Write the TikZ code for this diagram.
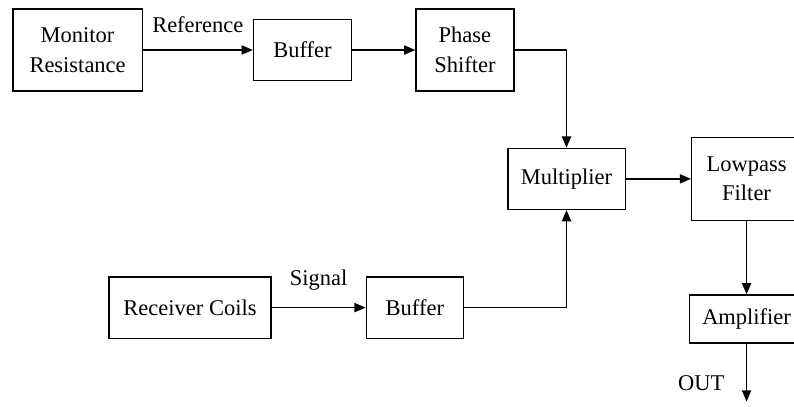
\documentclass[tikz,border=0pt]{standalone}
\usepackage{fontspec}
\setmainfont{Liberation Serif}
\usetikzlibrary{positioning,arrows.meta}

\begin{document}
\begin{tikzpicture}[
    every node/.style={font=\fontsize{16}{21}\selectfont},
    box/.style={rectangle, draw, line width=0.9pt, align=center, inner sep=2pt},
    tallbox/.style={box, minimum width=2.45cm, minimum height=2.05cm},
    flatbox/.style={box, minimum width=2.45cm, minimum height=1.53cm},
    arr/.style={draw, line width=0.9pt, -{Triangle[length=2.8mm,width=2.3mm]}}
]
    \useasboundingbox (0,0) rectangle (19.85,-10.15);
    \clip (0,0) rectangle (19.85,-10.15);

    % Reference path
    \node[tallbox, minimum width=3.23cm] (monitor) at (1.94,-1.25) {Monitor\\Resistance};
    \node[flatbox, right=2.75cm of monitor] (refbuf) {Buffer};
    \node[tallbox, right=1.58cm of refbuf] (shifter) {Phase\\Shifter};

    % Mixing
    \node[flatbox, minimum width=2.93cm, below=1.4cm of shifter, xshift=2.54cm] (mult) {Multiplier};
    \node[tallbox, minimum width=2.75cm, minimum height=2.08cm, right=1.63cm of mult] (lowpass) {Lowpass\\Filter};
    \node[box, minimum width=2.85cm, minimum height=1.2cm, below=1.83cm of lowpass] (amp) {Amplifier};
    \coordinate[below=1.45cm of amp] (out);
    \node[left=0.55cm of out, yshift=0.45cm, inner sep=0pt] (outlbl) {OUT};

    % Signal path
    \node[flatbox, minimum width=4.05cm] (coils) at (4.75,-7.69) {Receiver Coils};
    \node[flatbox, minimum width=2.43cm, right=2.35cm of coils] (sigbuf) {Buffer};

    % Edges
    \draw[arr] (monitor) -- node[above=0.3cm] (reflbl) {Reference} (refbuf);
    \draw[arr] (refbuf) -- (shifter);
    \draw[arr] (shifter.east) -| (mult.north);
    \draw[arr] (coils) -- node[above=0.3cm] (siglbl) {Signal} (sigbuf);
    \draw[arr] (sigbuf.east) -| (mult.south);
    \draw[arr] (mult) -- (lowpass);
    \draw[arr] (lowpass) -- (amp);
    \draw[arr] (amp) -- (out);
\end{tikzpicture}
\end{document}
